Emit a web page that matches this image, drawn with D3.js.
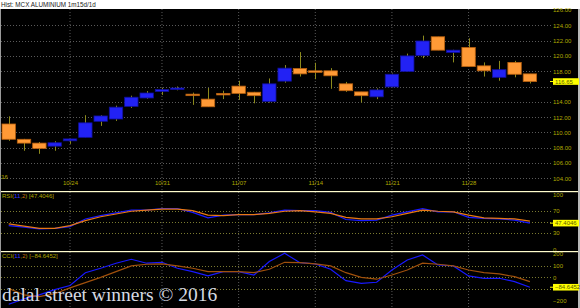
<!DOCTYPE html>
<html>
<head>
<meta charset="utf-8">
<script src="https://cdn.jsdelivr.net/npm/d3@7"></script>
<style>
  body { margin: 0; background: #000; }
  svg { display: block; }
</style>
</head>
<body>
<div id="chart"></div>
<script>
// daily candles, MCX Aluminium
var dates = ["10/18","10/19","10/20","10/21","10/24","10/25","10/26","10/27","10/28","10/30",
             "10/31","11/01","11/02","11/03","11/04","11/07","11/08","11/09","11/10","11/11",
             "11/14","11/15","11/16","11/17","11/18","11/21","11/22","11/23","11/24","11/25",
             "11/28","11/29","11/30","12/01","12/02"];
var open  = [111.1,109.1,108.6,108.2,108.9,109.35,111.45,111.75,113.4,114.5,
             115.35,115.7,115.0,114.35,115.1,116.05,115.25,114.05,116.7,118.35,
             118.05,118.05,116.35,115.3,114.65,115.95,117.95,120.05,122.5,120.45,
             121.1,118.7,117.2,119.15,117.65];
var high  = [112.1,109.15,108.75,108.85,109.15,112.25,112.25,113.5,114.8,115.4,
             115.8,116.0,115.2,115.8,115.45,116.75,115.3,117.05,118.8,120.5,
             119.1,118.4,116.6,115.3,115.75,117.7,120.3,122.65,122.5,120.8,
             122.3,119.15,119.35,119.35,117.65];
var low   = [108.9,107.6,107.2,107.6,108.5,109.35,110.85,111.5,113.2,114.4,
             114.9,115.5,113.6,113.35,114.35,114.25,113.8,113.9,116.5,117.3,
             116.95,115.7,115.3,113.9,114.35,115.9,117.9,119.7,120.75,119.15,
             118.6,117.3,116.75,117.2,116.4];
var close = [109.1,108.6,107.9,108.65,109.15,111.25,112.15,113.3,114.6,115.15,
             115.6,115.8,114.9,113.35,114.9,115.1,114.8,116.35,118.4,117.65,
             117.85,117.4,115.45,114.8,115.55,117.6,120.0,121.95,120.75,120.75,
             118.6,118.05,118.2,117.6,116.65];

var rsi    = [43,40,37,38,41,55,61,66,71,71,74,74,67,57,62,63,63,66,71,70,
              70,67,54,52,53,62,68,73.7,68,68,58,56,55,53,47.4046];
var rsiSig = [46,42,38,38,43,52,59,64,69,71,73,73,70,62,61,63,63,65,69,70,
              68,65,58,55,55,59,65,71,69,68,62,57,56,55,51];
var cci    = [-230,-185,-150,-105,-70,40,78,121,155,121,129,78,49,12,49,49,20,135,206,126,
              115,69,-28,-51,-42,63,149,192,106,98,12,-8,-8,-37,-84.6452];
var cciSig = [-95,-150,-165,-140,-90,-45,0,49,98,112,115,98,78,49,49,49,40,69,129,126,
              115,98,40,0,-16,20,63,121,112,98,63,40,29,6,-37];

var dateTicks  = ["10/24","10/31","11/07","11/14","11/21","11/28"];
var priceTicks = [104,106,108,110,112,114,116,118,120,122,124,126];
var rsiTicks   = [0,30,70,100];     // 50 sits under the value tag
var rsiGrid    = [30,50,70];
var cciTicks   = [-200,0,100,200];  // -100 sits under the value tag
var cciGrid    = [-100,0,100];

function init() {
    var w = 580, h = 308;
    var plotRight = 552;
    var gridCol = "#5a5a5a";
    var labCol = "#b0a800";
    var font = "Liberation Sans, Arial, sans-serif";

    var svg = d3.select("#chart").append("svg")
        .attr("width", w)
        .attr("height", h);

    // background
    svg.append("rect").attr("width", w).attr("height", h).attr("fill", "#000");
    svg.append("rect").attr("width", w).attr("height", 9).attr("fill", "#fff");
    svg.append("rect").attr("x", 0).attr("y", 9).attr("width", 1).attr("height", h - 9).attr("fill", "#9a9a9a");
    svg.append("rect").attr("x", 578).attr("y", 9).attr("width", 2).attr("height", h - 9).attr("fill", "#b8b8b8");

    svg.append("text")
        .attr("x", 1).attr("y", 6.8)
        .attr("font-family", font).attr("font-size", 6.3)
        .attr("fill", "#202020")
        .text("Hist: MCX ALUMINIUM 1m15d/1d");

    var x = d3.scalePoint().domain(dates).range([8.7, 529.9]);
    var bw = 13.4;
    var y = d3.scaleLinear().domain([104, 126]).range([178.3, 10]);
    var yR = d3.scaleLinear().domain([0, 100]).range([249.2, 194.2]);
    var yC = d3.scaleLinear().domain([-200, 200]).range([300.7, 254]);

    // vertical grid
    svg.append("g").selectAll("line")
        .data(dateTicks).enter().append("line")
        .attr("x1", function(d){ return x(d); })
        .attr("x2", function(d){ return x(d); })
        .attr("y1", 9).attr("y2", h)
        .attr("stroke", gridCol).attr("stroke-dasharray", "1,2");

    // horizontal grids
    function hGrid(vals, scale, col) {
        svg.append("g").selectAll("line")
            .data(vals).enter().append("line")
            .attr("x1", 1).attr("x2", plotRight)
            .attr("y1", function(d){ return Math.round(scale(d)) + 0.5; })
            .attr("y2", function(d){ return Math.round(scale(d)) + 0.5; })
            .attr("stroke", col).attr("stroke-dasharray", "1,2");
    }
    hGrid(priceTicks.filter(function(d){ return d < 126; }), y, gridCol);
    hGrid(rsiGrid, yR, "#7a7a30");
    hGrid(cciGrid, yC, "#7a7a30");

    // right axes
    function rightAxis(scale, vals, fmt) {
        var g = svg.append("g")
            .attr("transform", "translate(" + (plotRight + 1) + ",0)")
            .call(d3.axisRight(scale).tickValues(vals).tickSize(0).tickPadding(0).tickFormat(fmt));
        g.select(".domain").remove();
        g.selectAll("text")
            .attr("font-family", font).attr("font-size", 6)
            .attr("fill", labCol);
    }
    rightAxis(y, priceTicks.filter(function(d){ return d != 116; }), d3.format(".2f"));
    rightAxis(yR, rsiTicks, d3.format("d"));
    rightAxis(yC, cciTicks, d3.format("d"));

    // date axis
    var xa = svg.append("g")
        .attr("transform", "translate(0,181)")
        .call(d3.axisBottom(x).tickValues(dateTicks).tickSize(0).tickPadding(0));
    xa.select(".domain").remove();
    xa.selectAll("text")
        .attr("font-family", font).attr("font-size", 6)
        .attr("fill", labCol);
    svg.append("text")
        .attr("x", 0).attr("y", 179)
        .attr("font-family", font).attr("font-size", 6)
        .attr("fill", labCol).text("'16");

    // candles
    var idx = d3.range(dates.length);
    var cg = svg.append("g");
    cg.selectAll("line.wick")
        .data(idx).enter().append("line")
        .attr("class", "wick")
        .attr("x1", function(i){ return Math.round(x(dates[i])) + 0.5; })
        .attr("x2", function(i){ return Math.round(x(dates[i])) + 0.5; })
        .attr("y1", function(i){ return y(high[i]); })
        .attr("y2", function(i){ return y(low[i]); })
        .attr("stroke", "#8c8a1c").attr("stroke-width", 1);
    cg.selectAll("rect.body")
        .data(idx).enter().append("rect")
        .attr("class", "body")
        .attr("x", function(i){ return x(dates[i]) - bw / 2; })
        .attr("y", function(i){ return y(Math.max(open[i], close[i])); })
        .attr("width", bw)
        .attr("height", function(i){ return Math.max(1.5, Math.abs(y(open[i]) - y(close[i]))); })
        .attr("fill", function(i){ return close[i] >= open[i] ? "#2222f4" : "#ff9a36"; })
        .attr("stroke", function(i){ return close[i] >= open[i] ? "#10109a" : "#b8600e"; })
        .attr("stroke-width", 0.8);

    // indicator lines
    function drawLine(vals, scale, col, top, bottom) {
        var line = d3.line()
            .x(function(d, i){ return x(dates[i]); })
            .y(function(d){ return Math.max(top, Math.min(bottom, scale(d))); });
        svg.append("path")
            .datum(vals)
            .attr("d", line)
            .attr("fill", "none")
            .attr("stroke", col).attr("stroke-width", 1.2);
    }
    drawLine(rsi, yR, "#1818ff", 192, 250);
    drawLine(rsiSig, yR, "#e87814", 192, 250);
    drawLine(cci, yC, "#1818ff", 252, 307);
    drawLine(cciSig, yC, "#a0500c", 252, 307);

    // panel separators
    [191, 251].forEach(function(py){
        svg.append("rect").attr("x", 1).attr("y", py).attr("width", 577).attr("height", 1.2)
            .attr("fill", "#fffccc");
    });

    // panel titles
    function panelTitle(py, name, last) {
        var t = svg.append("text")
            .attr("x", 2).attr("y", py)
            .attr("font-family", font).attr("font-size", 6)
            .attr("fill", labCol);
        t.append("tspan").text(name + "(");
        t.append("tspan").attr("fill", "#3a3aff").text("11");
        t.append("tspan").text(",");
        t.append("tspan").attr("fill", "#d07010").text("2");
        t.append("tspan").text(") [" + last + "]");
    }
    panelTitle(198, "RSI", d3.format(".4f")(rsi[rsi.length - 1]));
    panelTitle(258, "CCI", d3.format(".4f")(cci[cci.length - 1]));

    // last value tags
    function tag(v, scale, txt) {
        var py = scale(v);
        svg.append("line").attr("x1", 550).attr("x2", 553)
            .attr("y1", py).attr("y2", py).attr("stroke", "#ffff00");
        svg.append("rect").attr("x", 553).attr("y", py - 3.3)
            .attr("width", 26).attr("height", 6.6).attr("fill", "#ffff00");
        svg.append("text").attr("x", 555).attr("y", py + 2.1)
            .attr("font-family", font).attr("font-size", 6)
            .attr("fill", "#5a5a00").text(txt);
    }
    tag(close[close.length - 1], y, d3.format(".2f")(close[close.length - 1]));
    tag(rsi[rsi.length - 1], yR, d3.format(".4f")(rsi[rsi.length - 1]));
    tag(cci[cci.length - 1], yC, d3.format(".4f")(cci[cci.length - 1]));

    // watermark
    svg.append("text")
        .attr("x", 2).attr("y", 301)
        .attr("font-family", "Liberation Serif, Times New Roman, serif")
        .attr("font-size", 19.5)
        .attr("fill", "#d6dae4")
        .text("dalal street winners \u00a9 2016");
}

window.onload = init;
</script>
</body>
</html>
